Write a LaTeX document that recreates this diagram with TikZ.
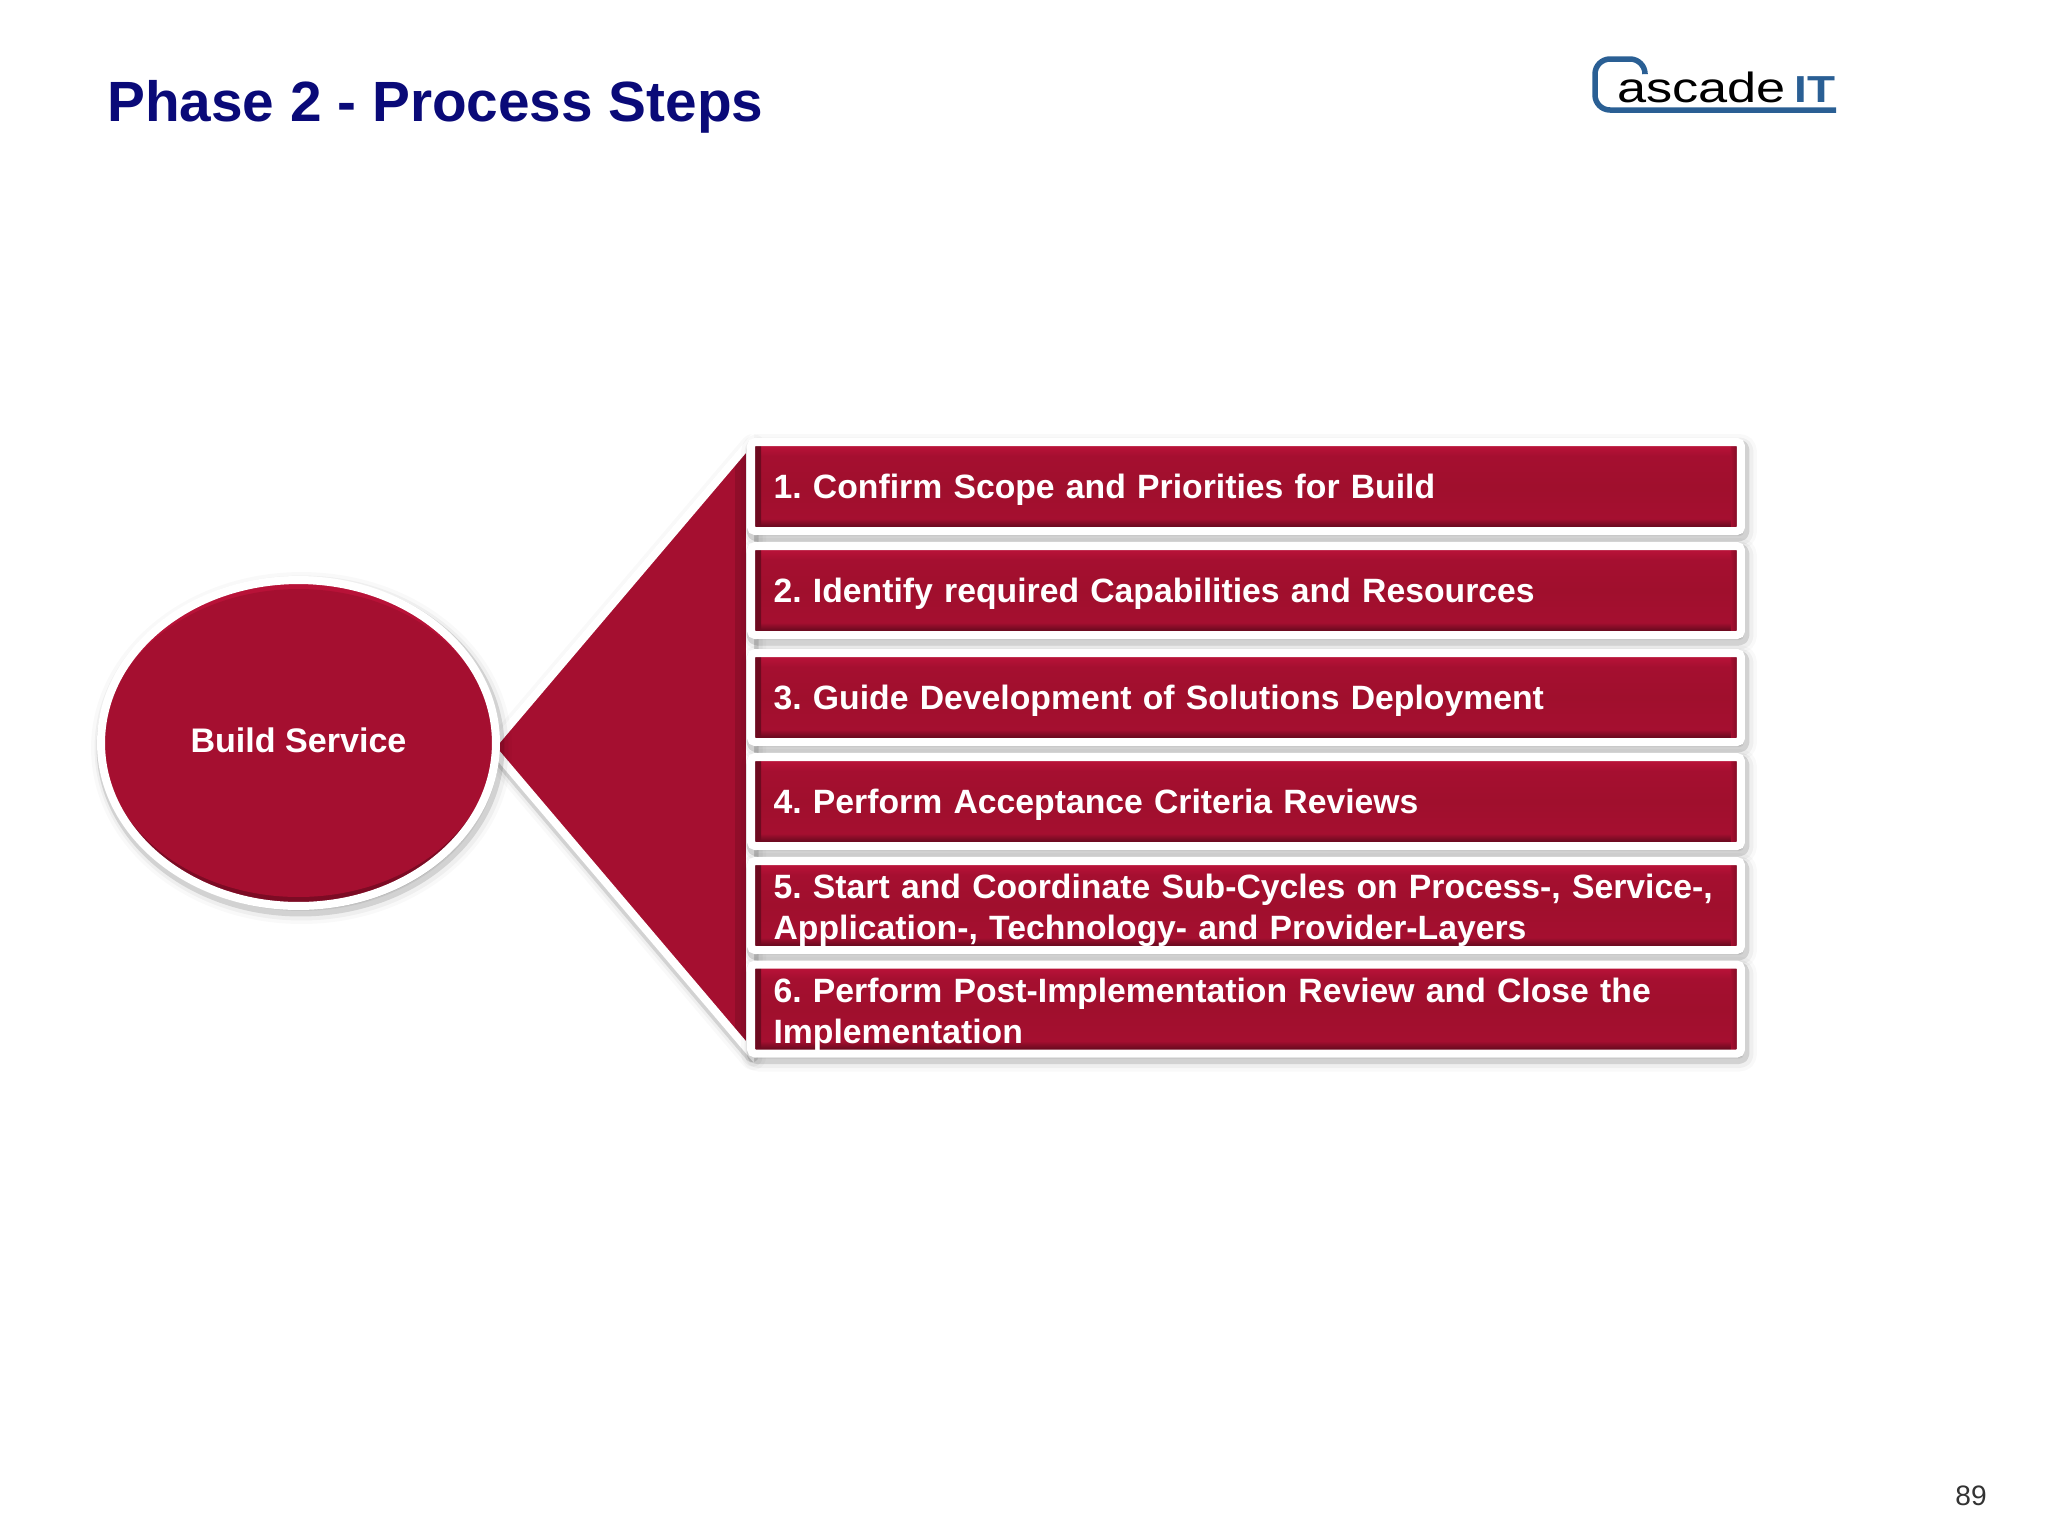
\documentclass[tikz,border=0pt]{standalone}
\usepackage{fontspec}
\setmainfont{Liberation Sans}
\frenchspacing
\usetikzlibrary{shapes.geometric,shadows}
\definecolor{wine}{HTML}{A50F30}
\definecolor{winemid}{HTML}{A00F2D}
\definecolor{winelight}{HTML}{B81238}
\definecolor{winedark}{HTML}{6E0A20}
\definecolor{titleblue}{HTML}{0A0A78}
\definecolor{logoblue}{HTML}{2A5F94}
\pgfdeclareverticalshading{stepshade}{100bp}{color(0bp)=(winedark);color(28bp)=(winedark);color(32bp)=(wine);color(50bp)=(winemid);color(67bp)=(wine);color(72.5bp)=(winelight);color(100bp)=(winelight)}
\tikzset{
  softshadow/.style={
    general shadow={fill=black,draw=black,line join=round,line width=.52cm,opacity=.025,shadow xshift=.06cm,shadow yshift=-.1cm},
    general shadow={fill=black,draw=black,line join=round,line width=.38cm,opacity=.04,shadow xshift=.06cm,shadow yshift=-.1cm},
    general shadow={fill=black,draw=black,line join=round,line width=.26cm,opacity=.12,shadow xshift=.04cm,shadow yshift=-.08cm},
  },
  stepbox/.style={draw=white,line width=.16cm,shading=stepshade,rounded corners=.08cm,softshadow,
    minimum width=19.8cm,minimum height=1.78cm,inner xsep=.44cm,inner ysep=0pt,
    text width=18.9cm,align=left,text=white,font=\fontsize{19.2}{23.4}\selectfont\bfseries,
    execute at end node={\par\vspace{-.2cm}},
    path picture={
      \shade [left color=winedark,right color=wine] (path picture bounding box.north west) rectangle ([xshift=.2cm]path picture bounding box.south west);
      \shade [left color=wine,right color=winedark] ([xshift=-.2cm]path picture bounding box.north east) rectangle (path picture bounding box.south east);
    }},
  bubble/.style={ellipse,draw=white,line width=.16cm,fill=wine,softshadow,minimum width=7.9cm,minimum height=6.52cm,inner sep=0pt,text depth=.1cm,
    text=white,font=\fontsize{19.4}{23.4}\selectfont\bfseries,
    path picture={
      \fill [winelight] (path picture bounding box.north west) rectangle (path picture bounding box.east);
      \fill [winedark!75!wine] (path picture bounding box.west) rectangle (path picture bounding box.south east);
      \fill [wine] (path picture bounding box.center) ellipse [x radius=3.9cm,y radius=3.08cm];
    }},
}
\begin{document}
\begin{tikzpicture}[x=.02cm,y=-.02cm]
\useasboundingbox (0,0) rectangle (2048,1536);

\node [anchor=base west,inner sep=0pt,text=titleblue,font=\fontsize{32.3}{38}\selectfont\bfseries] (title) at (107,121) {Phase 2 - Process Steps};

\draw [logoblue,line width=.11cm,rounded corners=.3cm] (1645,73)--(1645,59)--(1595,59)--(1595,110)--(1836,110);
\node [anchor=base west,inner sep=0pt,xscale=1.24,font=\fontsize{24}{28}\selectfont] (logotext) at (1617,102) {ascade};
\node [anchor=base west,inner sep=0pt,xscale=1.22,text=logoblue,font=\fontsize{21.4}{24}\selectfont\bfseries] (logoit) at (1794,102) {IT};

\coordinate (tip) at (491,747);
\coordinate (upper) at (750,442);
\coordinate (lower) at (750,1052);
\draw [draw=white,line width=.16cm,fill=wine,softshadow,
  path picture={\shade [left color=wine,right color=winemid!65!winedark] ([xshift=-.3cm]path picture bounding box.north east) rectangle (path picture bounding box.south east);}] (tip)--(upper)--(lower)--cycle;

\node [bubble] (build) at (298.5,743) {Build Service};

\node [stepbox] (step1) at (1246,486.5) {1. Confirm Scope and Priorities for Build};
\node [stepbox] (step2) at (1246,590.5) {2. Identify required Capabilities and Resources};
\node [stepbox] (step3) at (1246,697.5) {3. Guide Development of Solutions Deployment};
\node [stepbox] (step4) at (1246,801.5) {4. Perform Acceptance Criteria Reviews};
\node [stepbox] (step5) at (1246,905.5) {5. Start and Coordinate Sub-Cycles on Process-, Service-,\\Application-, Technology- and Provider-Layers};
\node [stepbox] (step6) at (1246,1009) {6. Perform Post-Implementation Review and Close the\\Implementation};

\node [anchor=base east,inner sep=0pt,text=black!80,font=\fontsize{16}{19}\selectfont] (pagenum) at (1987,1505) {89};
\end{tikzpicture}
\end{document}
